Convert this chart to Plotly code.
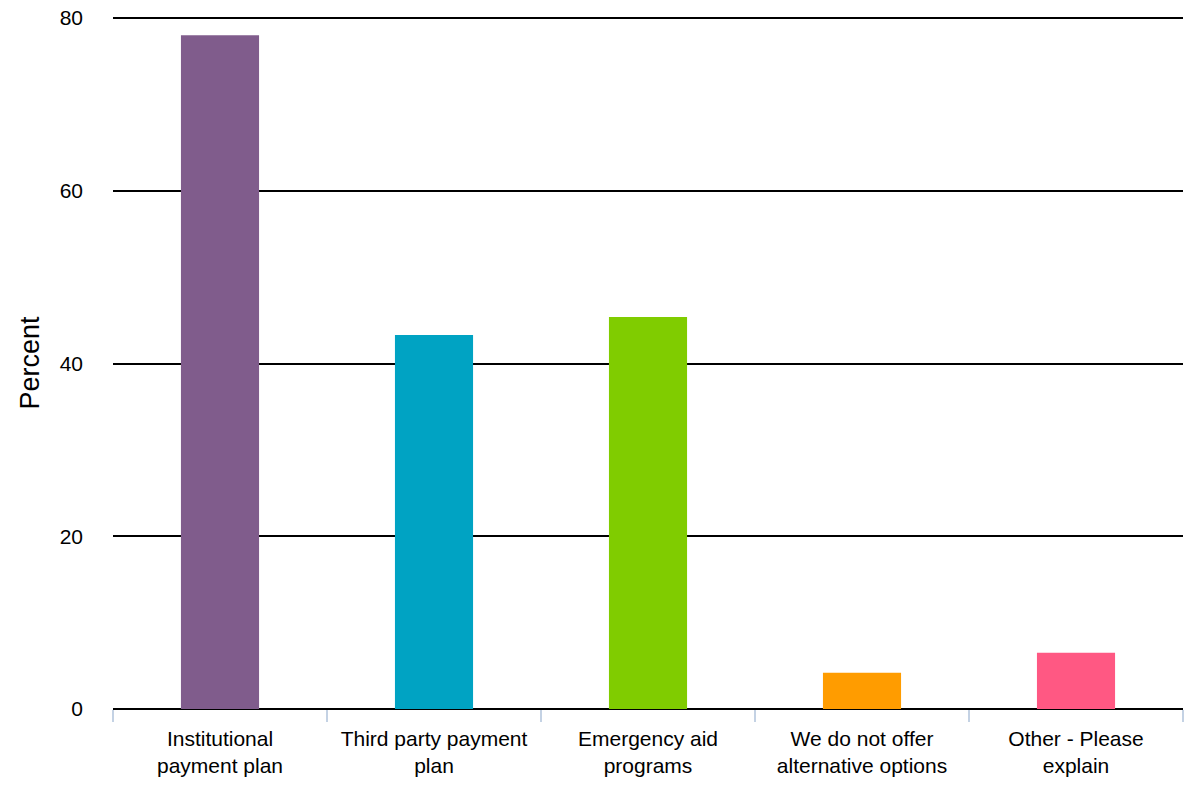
import plotly.graph_objects as go

# Alternative payment options offered (percent of respondents)
categories = [
    "Institutional<br>payment plan",
    "Third party payment<br>plan",
    "Emergency aid<br>programs",
    "We do not offer<br>alternative options",
    "Other - Please<br>explain",
]
percent = [78.0, 43.3, 45.4, 4.2, 6.5]
bar_colors = ["#805C8C", "#00A3C3", "#80CC00", "#FF9C00", "#FF5883"]

fig = go.Figure(
    go.Bar(
        x=categories,
        y=percent,
        marker=dict(color=bar_colors, line=dict(width=0)),
        width=0.365,
    )
)

font_family = "Liberation Sans, Arial, Helvetica, sans-serif"

fig.update_layout(
    width=1192,
    height=786,
    margin=dict(l=113, r=9, t=17, b=77),
    paper_bgcolor="white",
    plot_bgcolor="white",
    showlegend=False,
    font=dict(family=font_family, size=21, color="#000000"),
    bargap=0.635,
)

# Range topped a hair above 80 so the 80 gridline is still drawn
fig.update_yaxes(
    range=[0, 80.12],
    tickvals=[0, 20, 40, 60, 80],
    automargin=False,
    showgrid=True,
    gridcolor="#000000",
    gridwidth=2,
    zeroline=True,
    zerolinecolor="#000000",
    zerolinewidth=2,
    showline=False,
    ticks="",
    ticklabelstandoff=29,
    tickfont=dict(size=21, family=font_family),
    title=dict(text="Percent", font=dict(size=27, family=font_family), standoff=12),
)

fig.update_xaxes(
    automargin=False,
    showgrid=False,
    showline=False,
    ticks="outside",
    tickson="boundaries",
    ticklen=12,
    tickwidth=2,
    tickcolor="#C4D2E4",
    tickfont=dict(size=21, family=font_family),
    ticklabelstandoff=15,
)

fig.write_html("out.html")
